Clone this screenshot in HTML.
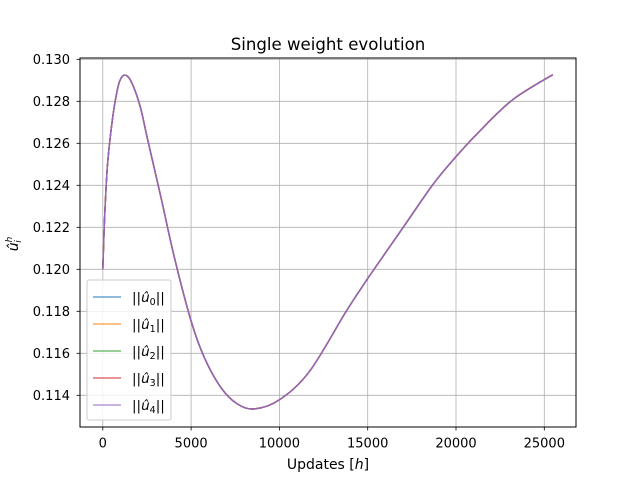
<!DOCTYPE html>
<html><head><meta charset="utf-8"><style>
body{margin:0;background:#fff}
svg text{font-family:"DejaVu Sans","Liberation Sans",sans-serif;fill:#000}
</style></head><body>
<svg id="chart" width="640" height="480" viewBox="0 0 640 480">
<rect width="640" height="480" fill="#fff"/>
<g id="grid"></g>
<g id="series"></g>
<rect x="80" y="58" width="496" height="369" fill="none" stroke="#000" stroke-width="1"/>
<g id="ticks"></g>
<text x="328" y="50" text-anchor="middle" font-size="16.6">Single weight evolution</text>
<text x="328" y="469" text-anchor="middle" font-size="14">Updates [<tspan font-style="italic">h</tspan>]</text>
<text transform="translate(18,244) rotate(-90)" text-anchor="middle" font-size="14"><tspan font-style="italic">û</tspan><tspan font-size="9" dy="-6" font-style="italic">h</tspan><tspan font-size="9" dy="9" dx="-6" font-style="italic">i</tspan></text>
<g id="legend"></g>
</svg>
<script>
const xs=[0,100,250,450,700,950,1240,1600,2100,2560,3300,4060,5006,5759,6705,7600,8591,10006,11705,13783,14950,16988,18687,19932,21330,23217,25481];
const ys=[0.1200,0.1224,0.1248,0.1265,0.1280,0.12895,0.12925,0.12895,0.1278,0.1261,0.1234,0.12054,0.11752,0.11578,0.11435,0.1136,0.11335,0.11379,0.11514,0.11800,0.11950,0.12197,0.12403,0.12530,0.12657,0.12808,0.12927];
const xTicks=[0,5000,10000,15000,20000,25000];
const yTicks=[0.114,0.116,0.118,0.120,0.122,0.124,0.126,0.128,0.130];
const seriesNames=["0","1","2","3","4"];
const colors=["#1f77b4","#ff7f0e","#2ca02c","#d62728","#9467bd"];
const X=v=>102.8+v*(88.3/5000);
const Y=v=>101.3-(v-0.128)*21000;
const NS="http://www.w3.org/2000/svg";
function mk(t,a,p){const e=document.createElementNS(NS,t);for(const k in a)e.setAttribute(k,a[k]);p.appendChild(e);return e;}
const grid=document.getElementById('grid'),ticks=document.getElementById('ticks');
xTicks.forEach(t=>{const x=X(t);
 const g=mk('line',{x1:x,x2:x,y1:58,y2:427,stroke:'#b0b0b0','stroke-width':0.8},grid);
 
 mk('line',{x1:x,x2:x,y1:427,y2:430.5,stroke:'#000','stroke-width':0.8},ticks);
 const l=mk('text',{x:x,y:447.5,'text-anchor':'middle','font-size':13},ticks);l.textContent=t;
 });
yTicks.forEach(t=>{const y=Y(t);
 const g=mk('line',{x1:80,x2:576,y1:y,y2:y,stroke:'#b0b0b0','stroke-width':0.8},grid);
 
 mk('line',{x1:76.5,x2:80,y1:y,y2:y,stroke:'#000','stroke-width':0.8},ticks);
 const l=mk('text',{x:70,y:y+4.7,'text-anchor':'end','font-size':13},ticks);l.textContent=t.toFixed(3);
 });
const pts=xs.map((v,i)=>[X(v),Y(ys[i])]);
let d='M'+pts[0][0]+','+pts[0][1];
for(let i=0;i<pts.length-1;i++){const p0=pts[Math.max(0,i-1)],p1=pts[i],p2=pts[i+1],p3=pts[Math.min(pts.length-1,i+2)];
 d+=' C'+(p1[0]+(p2[0]-p0[0])/6)+','+(p1[1]+(p2[1]-p0[1])/6)+' '+(p2[0]-(p3[0]-p1[0])/6)+','+(p2[1]-(p3[1]-p1[1])/6)+' '+p2[0]+','+p2[1];}
const sg=document.getElementById('series');
seriesNames.forEach((n,i)=>{const p=mk('path',{d:d,fill:'none',stroke:colors[i],'stroke-width':1.4},sg);
 });
const lg=document.getElementById('legend');
const box=mk('rect',{x:87,y:280,width:84,height:140,rx:2,fill:'#fff','fill-opacity':0.8,stroke:'#ccc'},lg);

seriesNames.forEach((n,i)=>{const y=297+i*27;
 mk('line',{x1:93,x2:121,y1:y,y2:y,stroke:colors[i],'stroke-width':1},lg);
 const t=mk('text',{x:132,y:y+5,'font-size':13.5},lg);
 t.innerHTML='||<tspan font-style="italic">û</tspan><tspan font-size="9.5" dy="3">'+n+'</tspan><tspan dy="-3">||</tspan>';
 });
</script>
</body></html>
